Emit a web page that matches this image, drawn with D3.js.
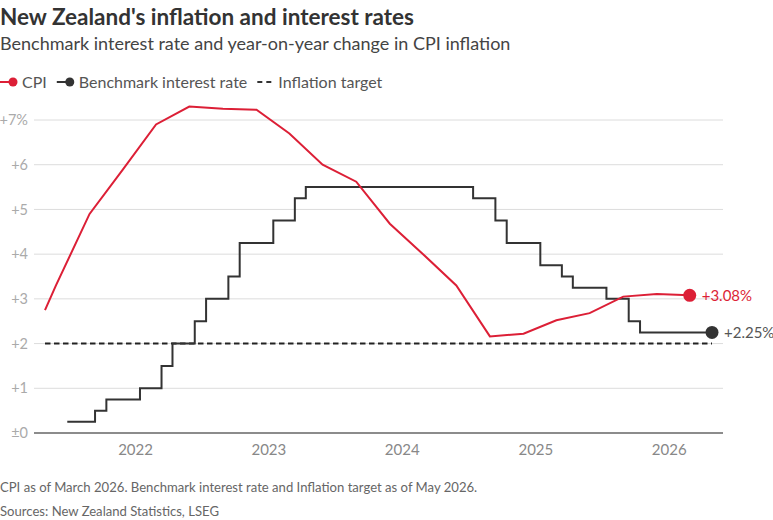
<!DOCTYPE html>
<html>
<head>
<meta charset="utf-8">
<script src="https://cdn.jsdelivr.net/npm/d3@7"></script>
<style>
  body { margin: 0; background: #fff; }
  svg { display: block; font-family: Lato, "Noto Sans", sans-serif; }
</style>
</head>
<body>
<div id="chart"></div>
<script>
// CPI, year-on-year % (quarterly, first point is where the chart window starts)
const cpiDates = ["2021-05-31", "2021-06-30", "2021-09-30", "2021-12-31", "2022-03-31", "2022-06-30",
  "2022-09-30", "2022-12-31", "2023-03-31", "2023-06-30", "2023-09-30", "2023-12-31", "2024-03-31",
  "2024-06-30", "2024-09-30", "2024-12-31", "2025-03-31", "2025-06-30", "2025-09-30", "2025-12-31", "2026-03-31"]
const cpiValues = [2.75, 3.3, 4.9, 5.9, 6.9, 7.3, 7.25, 7.23, 6.7, 6.0, 5.62, 4.68, 4.0, 3.3, 2.16, 2.22,
  2.52, 2.68, 3.05, 3.11, 3.08]

// official cash rate, each entry is the level from that date on
const rateDates = ["2021-07-31", "2021-10-15", "2021-11-15", "2022-02-15", "2022-04-15", "2022-05-15",
  "2022-07-15", "2022-08-15", "2022-10-15", "2022-11-15", "2023-02-15", "2023-04-15", "2023-05-15",
  "2024-08-15", "2024-10-15", "2024-11-15", "2025-02-15", "2025-04-15", "2025-05-15", "2025-08-15",
  "2025-10-15", "2025-11-15", "2026-05-31"]
const rateValues = [0.25, 0.5, 0.75, 1.0, 1.5, 2.0, 2.5, 3.0, 3.5, 4.25, 4.75, 5.25, 5.5, 5.25, 4.75,
  4.25, 3.75, 3.5, 3.25, 3.0, 2.5, 2.25, 2.25]

const targetDates = ["2021-05-31", "2026-05-31"]
const targetValues = [2, 2]

const yTicks = [0, 1, 2, 3, 4, 5, 6, 7]
const yTickLabels = ["±0", "+1", "+2", "+3", "+4", "+5", "+6", "+7%"]
const xTickYears = [2022, 2023, 2024, 2025, 2026]

const red = "#dc1f36", dark = "#333333"
const width = 773, height = 520
const parse = d3.timeParse("%Y-%m-%d")

const cpi = cpiDates.map((d, i) => ({ date: parse(d), value: cpiValues[i] }))
const rate = rateDates.map((d, i) => ({ date: parse(d), value: rateValues[i] }))
const target = targetDates.map((d, i) => ({ date: parse(d), value: targetValues[i] }))

const svg = d3.select("#chart").append("svg")
  .attr("width", width)
  .attr("height", height)

const x = d3.scaleTime()
  .domain([parse("2021-05-31"), parse("2026-05-31")])
  .range([45, 712])

const y = d3.scaleLinear()
  .domain([0, 7])
  .range([433, 120])

const gridLeft = 34, gridRight = 723

// titles
svg.append("text")
  .attr("x", 0).attr("y", 25)
  .attr("font-size", 22.5).attr("font-weight", 700)
  .attr("fill", "#333")
  .text("New Zealand's inflation and interest rates")

svg.append("text")
  .attr("x", 0).attr("y", 50)
  .attr("font-size", 18)
  .attr("fill", "#444")
  .text("Benchmark interest rate and year-on-year change in CPI inflation")

// legend
const legend = svg.append("g").attr("transform", "translate(0,82)")
const legendItems = [
  { label: "CPI", color: red, dashed: false },
  { label: "Benchmark interest rate", color: dark, dashed: false },
  { label: "Inflation target", color: dark, dashed: true }
]
let lx = 0
legendItems.forEach(item => {
  const g = legend.append("g").attr("transform", `translate(${lx},0)`)
  if (item.dashed) {
    g.append("line").attr("x1", 0).attr("x2", 14).attr("y1", 0).attr("y2", 0)
      .attr("stroke", item.color).attr("stroke-width", 2).attr("stroke-dasharray", "5,4")
  } else {
    g.append("line").attr("x1", 0).attr("x2", 10).attr("y1", 0).attr("y2", 0)
      .attr("stroke", item.color).attr("stroke-width", 2)
    g.append("circle").attr("cx", 13).attr("r", 4.5).attr("fill", item.color)
  }
  const t = g.append("text")
    .attr("x", item.dashed ? 21 : 22).attr("y", 0).attr("dy", "0.35em")
    .attr("font-size", 16).attr("fill", "#555")
    .text(item.label)
  lx += (item.dashed ? 21 : 22) + t.node().getComputedTextLength() + 10
})

// grid
svg.append("g")
  .selectAll("line")
  .data(yTicks.filter(d => d > 0))
  .join("line")
  .attr("x1", gridLeft).attr("x2", gridRight)
  .attr("y1", d => y(d)).attr("y2", d => y(d))
  .attr("stroke", "#dcdcdc").attr("stroke-width", 1)

svg.append("g")
  .selectAll("text")
  .data(yTicks)
  .join("text")
  .attr("x", 28).attr("y", d => y(d))
  .attr("dy", "0.35em")
  .attr("text-anchor", "end")
  .attr("font-size", 14.5)
  .attr("fill", "#aaa")
  .text((d, i) => yTickLabels[i])

svg.append("line")
  .attr("x1", gridLeft).attr("x2", gridRight)
  .attr("y1", y(0)).attr("y2", y(0))
  .attr("stroke", "#8c8c8c").attr("stroke-width", 2)

svg.append("g")
  .selectAll("text")
  .data(xTickYears)
  .join("text")
  .attr("x", d => x(new Date(d, 0, 1)) + 12)
  .attr("y", 455)
  .attr("text-anchor", "middle")
  .attr("font-size", 15)
  .attr("fill", "#888")
  .text(d => d)

// series
const line = d3.line().x(d => x(d.date)).y(d => y(d.value))

svg.append("path")
  .datum(target)
  .attr("fill", "none")
  .attr("stroke", "#222").attr("stroke-width", 2)
  .attr("stroke-dasharray", "5.5,3.5")
  .attr("d", line)

svg.append("path")
  .datum(rate)
  .attr("fill", "none")
  .attr("stroke", dark).attr("stroke-width", 2)
  .attr("d", line.curve(d3.curveStepAfter))

svg.append("path")
  .datum(cpi)
  .attr("fill", "none")
  .attr("stroke", red).attr("stroke-width", 2)
  .attr("d", d3.line().x(d => x(d.date)).y(d => y(d.value)))

// end points
const ends = [
  { d: cpi[cpi.length - 1], color: red, text: "#dc1f36", dx: 12 },
  { d: rate[rate.length - 1], color: dark, text: "#555", dx: 12 }
]
ends.forEach(e => {
  svg.append("circle")
    .attr("cx", x(e.d.date)).attr("cy", y(e.d.value))
    .attr("r", 6.5).attr("fill", e.color)
  svg.append("text")
    .attr("x", x(e.d.date) + e.dx).attr("y", y(e.d.value))
    .attr("dy", "0.35em")
    .attr("font-size", 15)
    .attr("fill", e.text)
    .text("+" + d3.format(".2f")(e.d.value) + "%")
})

// footer
svg.append("text")
  .attr("x", 0).attr("y", 492)
  .attr("font-size", 13.1).attr("fill", "#666")
  .text("CPI as of March 2026. Benchmark interest rate and Inflation target as of May 2026.")

svg.append("text")
  .attr("x", 0).attr("y", 516)
  .attr("font-size", 13.1).attr("fill", "#666")
  .text("Sources: New Zealand Statistics, LSEG")
</script>
</body>
</html>
